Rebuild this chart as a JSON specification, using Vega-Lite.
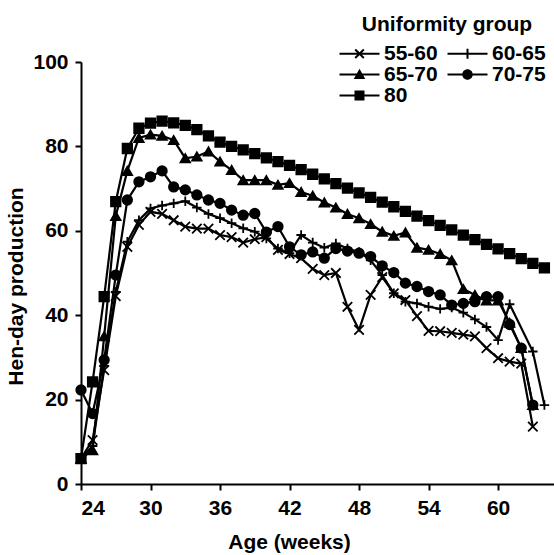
{
  "$schema": "https://vega.github.io/schema/vega-lite/v6.json",
  "width": 475,
  "height": 422,
  "autosize": {"type": "none"},
  "padding": {"left": 81, "top": 62, "right": 0, "bottom": 71},
  "background": "white",
  "config": {
    "view": {"stroke": null},
    "font": "Liberation Sans",
    "axis": {
      "domainColor": "black", "domainWidth": 2, "tickColor": "black", "tickWidth": 2, "tickSize": 6,
      "labelFont": "Liberation Sans", "labelFontSize": 21, "labelFontWeight": "bold", "labelColor": "black",
      "titleFont": "Liberation Sans", "titleFontSize": 21, "titleFontWeight": "bold", "titleColor": "black",
      "grid": false
    }
  },
  "data": {
    "values": [
      {"w": 24, "55-60": 6, "60-65": 6, "65-70": 6, "70-75": 22.3, "80": 6},
      {"w": 25, "55-60": 10.4, "60-65": 9, "65-70": 8, "70-75": 16.7, "80": 24.2},
      {"w": 26, "55-60": 27, "60-65": 28, "65-70": 35, "70-75": 29.4, "80": 44.4},
      {"w": 27, "55-60": 44.5, "60-65": 45.5, "65-70": 63.5, "70-75": 49.5, "80": 66.9},
      {"w": 28, "55-60": 56.2, "60-65": 57.4, "65-70": 74.2, "70-75": 67.3, "80": 79.5},
      {"w": 29, "55-60": 61.4, "60-65": 62.5, "65-70": 82, "70-75": 71.6, "80": 84.3},
      {"w": 30, "55-60": 64.5, "60-65": 65.3, "65-70": 82.8, "70-75": 72.8, "80": 85.5},
      {"w": 31, "55-60": 64, "60-65": 66, "65-70": 82.5, "70-75": 74.2, "80": 86},
      {"w": 32, "55-60": 62.5, "60-65": 66.5, "65-70": 81.5, "70-75": 70.4, "80": 85.6},
      {"w": 33, "55-60": 61, "60-65": 67, "65-70": 77.2, "70-75": 69.7, "80": 85},
      {"w": 34, "55-60": 60.5, "60-65": 65.5, "65-70": 77.6, "70-75": 68.5, "80": 84},
      {"w": 35, "55-60": 60.5, "60-65": 64, "65-70": 78.8, "70-75": 67.3, "80": 82.5},
      {"w": 36, "55-60": 59, "60-65": 63, "65-70": 76.4, "70-75": 66.5, "80": 81},
      {"w": 37, "55-60": 58.5, "60-65": 61.8, "65-70": 74.4, "70-75": 64.9, "80": 80},
      {"w": 38, "55-60": 57.2, "60-65": 60.6, "65-70": 72, "70-75": 63.7, "80": 79.2},
      {"w": 39, "55-60": 58, "60-65": 59.8, "65-70": 72, "70-75": 64.1, "80": 78.3},
      {"w": 40, "55-60": 58.5, "60-65": 58.2, "65-70": 72, "70-75": 59.7, "80": 77.3},
      {"w": 41, "55-60": 55.5, "60-65": 55.8, "65-70": 70.9, "70-75": 61, "80": 76.4},
      {"w": 42, "55-60": 54.5, "60-65": 54.7, "65-70": 71.3, "70-75": 56.2, "80": 75.5},
      {"w": 43, "55-60": 53.5, "60-65": 59, "65-70": 69.2, "70-75": 54.3, "80": 74.5},
      {"w": 44, "55-60": 51, "60-65": 57.2, "65-70": 68.3, "70-75": 55, "80": 73.4},
      {"w": 45, "55-60": 49.5, "60-65": 56, "65-70": 66.7, "70-75": 53.5, "80": 72.3},
      {"w": 46, "55-60": 50, "60-65": 57, "65-70": 65.5, "70-75": 55.8, "80": 71.2},
      {"w": 47, "55-60": 42, "60-65": 55.8, "65-70": 64, "70-75": 55.2, "80": 70.1},
      {"w": 48, "55-60": 36.5, "60-65": 55, "65-70": 63, "70-75": 54.7, "80": 69},
      {"w": 49, "55-60": 44.8, "60-65": 53, "65-70": 61.6, "70-75": 53.9, "80": 67.9},
      {"w": 50, "55-60": 49, "60-65": 49.5, "65-70": 59.8, "70-75": 51.7, "80": 66.8},
      {"w": 51, "55-60": 45.2, "60-65": 45.2, "65-70": 58.8, "70-75": 50.1, "80": 65.7},
      {"w": 52, "55-60": 43.6, "60-65": 43.2, "65-70": 59.6, "70-75": 47.6, "80": 64.6},
      {"w": 53, "55-60": 39.8, "60-65": 42.8, "65-70": 56, "70-75": 46.8, "80": 63.5},
      {"w": 54, "55-60": 36.3, "60-65": 42, "65-70": 55.5, "70-75": 45.6, "80": 62.4},
      {"w": 55, "55-60": 36.2, "60-65": 41.5, "65-70": 54.5, "70-75": 44.8, "80": 61.3},
      {"w": 56, "55-60": 35.8, "60-65": 41.8, "65-70": 53, "70-75": 42.4, "80": 60.2},
      {"w": 57, "55-60": 35.4, "60-65": 40.6, "65-70": 46.2, "70-75": 42.8, "80": 59},
      {"w": 58, "55-60": 35, "60-65": 39, "65-70": 44.8, "70-75": 43.2, "80": 57.9},
      {"w": 59, "55-60": 32.2, "60-65": 37.2, "65-70": 43.5, "70-75": 44.4, "80": 56.8},
      {"w": 60, "55-60": 29.8, "60-65": 34.1, "65-70": 43.5, "70-75": 44.4, "80": 55.7},
      {"w": 61, "55-60": 29, "60-65": 42.6, "65-70": 38.2, "70-75": 37.8, "80": 54.6},
      {"w": 62, "55-60": 28.5, "60-65": null, "65-70": 32.2, "70-75": 32.2, "80": 53.4},
      {"w": 63, "55-60": 13.6, "60-65": 31.4, "65-70": 18.7, "70-75": 18.7, "80": 52.3},
      {"w": 64, "55-60": null, "60-65": 18.7, "65-70": null, "70-75": null, "80": 51.2}
    ]
  },
  "transform": [
    {"fold": ["55-60", "60-65", "65-70", "70-75", "80"], "as": ["group", "value"]},
    {"filter": {"field": "value", "valid": true}}
  ],
  "encoding": {
    "x": {
      "field": "w", "type": "quantitative",
      "scale": {"domain": [24, 65], "nice": false, "zero": false},
      "axis": {"values": [24, 30, 36, 42, 48, 54, 60], "title": "Age (weeks)", "labelPadding": 7, "titlePadding": 13, "titleX": 208}
    },
    "y": {
      "field": "value", "type": "quantitative",
      "scale": {"domain": [0, 100], "nice": false},
      "axis": {"values": [0, 20, 40, 60, 80, 100], "title": "Hen-day production", "labelPadding": 7, "titlePadding": 6, "titleY": 224}
    }
  },
  "layer": [
    {
      "mark": {"type": "line", "color": "black", "strokeWidth": 2.2},
      "encoding": {"detail": {"field": "group"}}
    },
    {
      "mark": {"type": "point", "filled": true, "color": "black", "stroke": "black", "strokeWidth": 1.8, "opacity": 1, "size": 90},
      "encoding": {
        "shape": {
          "field": "group", "type": "nominal",
          "scale": {
            "domain": ["55-60", "60-65", "65-70", "70-75", "80"],
            "range": ["M-1,-1L1,1M1,-1L-1,1", "M-1,0H1M0,-1V1", "triangle-up", "circle", "square"]
          },
          "legend": null
        }
      }
    },
    {
      "transform": [{"filter": "datum.w > 1000"}],
      "mark": {"type": "point", "filled": true, "color": "black", "opacity": 1},
      "encoding": {
        "shape": {
          "field": "group", "type": "nominal",
          "scale": {
            "domain": ["55-60", "60-65", "65-70", "70-75", "80"],
            "range": [
              "M-4,-0.2H4V0.2H-4ZM-1,-0.72L-0.72,-1L1,0.72L0.72,1ZM0.72,-1L1,-0.72L-0.72,1L-1,0.72Z",
              "M-4,-0.2H4V0.2H-4ZM-0.2,-1H0.2V1H-0.2Z",
              "M-4,-0.2H4V0.2H-4ZM0,-1.15L1.15,0.9H-1.15Z",
              "M-4,-0.2H4V0.2H-4ZM1.05,0A1.05,1.05,0,1,1,-1.05,0A1.05,1.05,0,1,1,1.05,0Z",
              "M-4,-0.2H4V0.2H-4ZM-1,-1H1V1H-1Z"
            ]
          },
          "legend": {
            "orient": "none", "legendX": 268, "legendY": -48, "columns": 2, "direction": "horizontal",
            "title": "Uniformity group", "titleFont": "Liberation Sans", "titleFontSize": 21, "titleFontWeight": "bold", "titleColor": "black", "titleAnchor": "middle", "titlePadding": 8,
            "labelFont": "Liberation Sans", "labelFontSize": 21, "labelFontWeight": "bold", "labelColor": "black",
            "symbolSize": 100, "labelOffset": 14, "columnPadding": 9, "rowPadding": -1, "padding": 0,
            "symbolFillColor": "black", "symbolStrokeWidth": 0
          }
        }
      }
    }
  ],
  "resolve": {"scale": {"shape": "independent"}, "legend": {"shape": "independent"}}
}
